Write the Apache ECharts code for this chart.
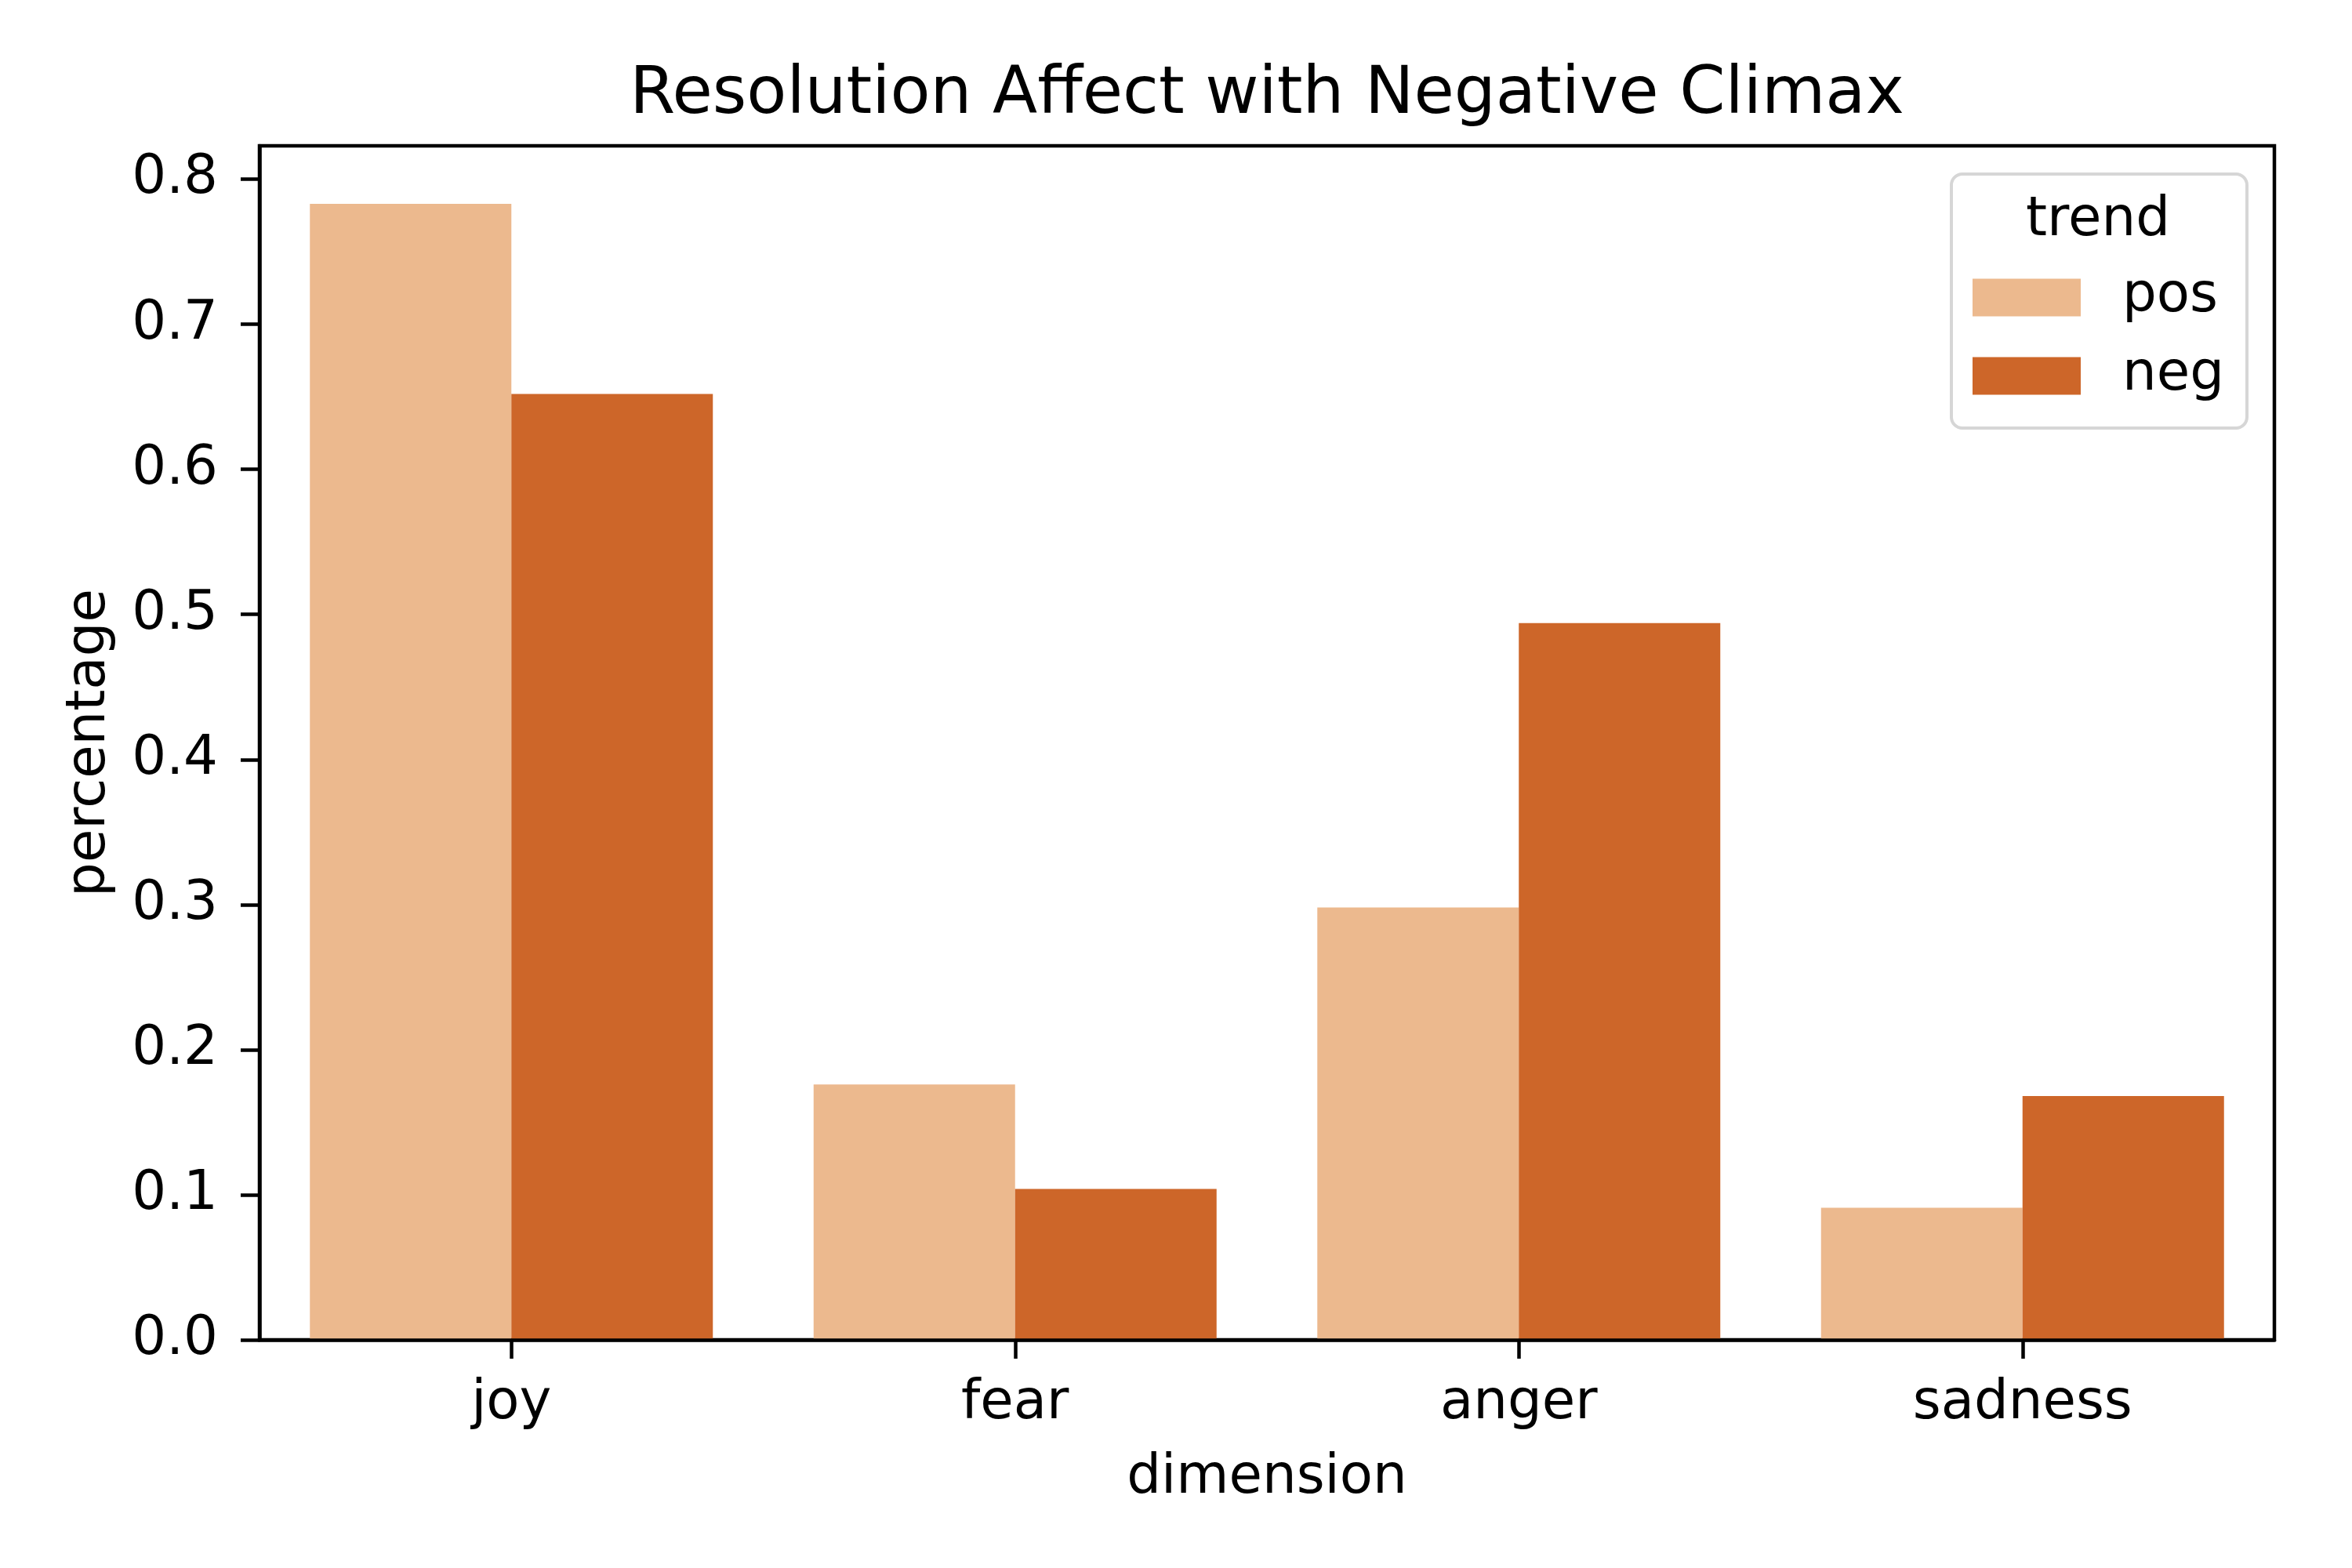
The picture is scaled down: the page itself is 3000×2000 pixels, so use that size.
<!DOCTYPE html>
<html>
<head>
<meta charset="utf-8">
<script src="https://cdn.jsdelivr.net/npm/echarts@6/dist/echarts.min.js"></script>
<style>
html,body{margin:0;padding:0;background:#fff;}
#chart{width:3000px;height:2000px;}
</style>
</head>
<body>
<div id="chart"></div>
<script>
const categories = ['joy', 'fear', 'anger', 'sadness'];
const posValues = [0.783, 0.176, 0.298, 0.091];
const negValues = [0.652, 0.104, 0.494, 0.168];
const yTicks = [0, 0.1, 0.2, 0.3, 0.4, 0.5, 0.6, 0.7, 0.8];
const seriesNames = ['pos', 'neg'];
const titleText = 'Resolution Affect with Negative Climax';
const legendTitle = 'trend';
const xName = 'dimension';
const yName = 'percentage';

const FONT = 'DejaVu Sans';
const chart = echarts.init(document.getElementById('chart'), null, {renderer: 'canvas'});

const gridLeft = 331, gridRight = 2901, gridTop = 186, gridBottom = 1709;

chart.setOption({
  backgroundColor: '#fff',
  animation: false,
  title: [
    {
      text: titleText,
      left: (gridLeft + gridRight) / 2,
      top: 80,
      padding: 0,
      textAlign: 'center',
      textStyle: {fontFamily: FONT, fontSize: 83.5, fontWeight: 'normal', color: '#000'}
    },
    {
      text: legendTitle,
      left: 2676,
      top: 248,
      padding: 0,
      z: 10,
      textAlign: 'center',
      textStyle: {fontFamily: FONT, fontSize: 69, fontWeight: 'normal', color: '#000'}
    }
  ],
  legend: {
    data: seriesNames,
    orient: 'vertical',
    left: 2489,
    top: 222,
    padding: [123, 29, 32, 27],
    itemWidth: 138,
    itemHeight: 48,
    itemGap: 31,
    icon: 'rect',
    backgroundColor: '#fff',
    borderColor: '#d6d6d6',
    borderWidth: 4,
    borderRadius: 14,
    textStyle: {fontFamily: FONT, fontSize: 69, color: '#000', lineHeight: 60, padding: [0, 0, 0, 48]}
  },
  grid: {
    left: gridLeft,
    right: 3000 - gridRight,
    top: gridTop,
    bottom: 2000 - gridBottom,
    show: true,
    borderColor: '#000',
    borderWidth: 4.5,
    backgroundColor: 'transparent'
  },
  xAxis: {
    type: 'category',
    data: categories,
    z: 5,
    name: xName,
    nameLocation: 'middle',
    nameGap: 143,
    nameTextStyle: {fontFamily: FONT, fontSize: 69, color: '#000'},
    axisLine: {show: true, lineStyle: {color: '#000', width: 4.5}},
    axisTick: {show: true, alignWithLabel: true, length: 24, lineStyle: {color: '#000', width: 4.5}},
    axisLabel: {fontFamily: FONT, fontSize: 69, color: '#000', margin: 48},
    splitLine: {show: false}
  },
  yAxis: {
    type: 'value',
    min: 0,
    max: 0.823,
    interval: 0.1,
    z: 5,
    name: yName,
    nameLocation: 'middle',
    nameGap: 181,
    nameTextStyle: {fontFamily: FONT, fontSize: 69, color: '#000'},
    axisLine: {show: true, lineStyle: {color: '#000', width: 4.5}},
    axisTick: {show: true, length: 24, lineStyle: {color: '#000', width: 4.5}, customValues: yTicks},
    axisLabel: {
      fontFamily: FONT, fontSize: 69, color: '#000', margin: 53,
      customValues: yTicks,
      formatter: v => Number(v).toFixed(1)
    },
    splitLine: {show: false}
  },
  series: [
    {
      name: seriesNames[0],
      type: 'bar',
      data: posValues,
      barGap: '0%',
      barCategoryGap: '20%',
      itemStyle: {color: '#ecb98e'}
    },
    {
      name: seriesNames[1],
      type: 'bar',
      data: negValues,
      barGap: '0%',
      barCategoryGap: '20%',
      itemStyle: {color: '#cd6629'}
    }
  ]
});
</script>
</body>
</html>
